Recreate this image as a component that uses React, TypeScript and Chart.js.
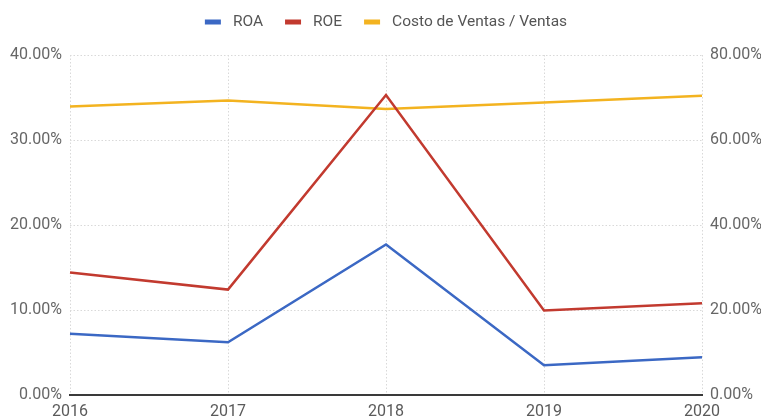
import React, { useEffect, useRef } from "react";
import { Chart, registerables } from "chart.js";

Chart.register(...registerables);

const years = ["2016", "2017", "2018", "2019", "2020"];
const roa = [7.2, 6.2, 17.7, 3.5, 4.45];
const roe = [14.4, 12.4, 35.3, 9.95, 10.8];
const costoVentas = [67.9, 69.3, 67.3, 68.8, 70.4];

const leftTicks = { min: 0, max: 40, step: 10 };
const rightTicks = { min: 0, max: 80, step: 20 };

const FONT = "Roboto";

const customLegend = {
  id: "customLegend",
  afterDraw(chart: any) {
    const ctx = chart.ctx;
    const ds = chart.data.datasets;
    ctx.save();
    ctx.font = `15.5px ${FONT}`;
    ctx.textBaseline = "middle";
    const mW = 16, gapMT = 12, gapItem = 22;
    const widths = ds.map((d: any) => mW + gapMT + ctx.measureText(d.label).width);
    const total = widths.reduce((a: number, b: number) => a + b, 0) + gapItem * (ds.length - 1);
    const ca = chart.chartArea;
    let x = (ca.left + ca.right) / 2 - total / 2;
    const y = 22;
    ds.forEach((d: any, i: number) => {
      ctx.fillStyle = d.borderColor;
      ctx.fillRect(x, y - 2.5, mW, 5);
      ctx.fillStyle = "#555555";
      ctx.textAlign = "left";
      ctx.fillText(d.label, x + mW + gapMT, y + 0.5);
      x += widths[i] + gapItem;
    });
    ctx.restore();
  },
};

export default function App() {
  const ref = useRef<HTMLCanvasElement | null>(null);
  useEffect(() => {
    if (!ref.current) return;
    const chart = new Chart(ref.current, {
      type: "line",
      data: {
        labels: years,
        datasets: [
          { label: "ROA", data: roa, borderColor: "#3b68c4", backgroundColor: "#3b68c4", yAxisID: "y", borderWidth: 2.5, pointRadius: 0, tension: 0 },
          { label: "ROE", data: roe, borderColor: "#c23a2f", backgroundColor: "#c23a2f", yAxisID: "y", borderWidth: 2.5, pointRadius: 0, tension: 0 },
          { label: "Costo de Ventas / Ventas", data: costoVentas, borderColor: "#f3b320", backgroundColor: "#f3b320", yAxisID: "y1", borderWidth: 2.5, pointRadius: 0, tension: 0 },
        ],
      },
      options: {
        responsive: false,
        animation: false,
        layout: { padding: { top: 55, left: 0, right: 0, bottom: 0 } },
        plugins: { legend: { display: false }, tooltip: { enabled: false } },
        scales: {
          x: {
            offset: false,
            grid: { color: "#d9d9d9", lineWidth: 1, drawTicks: false },
            border: { display: true, color: "#3a3a3a", width: 2, dash: [1.5, 2] },
            ticks: { color: "#5a5a5a", font: { family: FONT, size: 16 }, padding: 7, maxRotation: 0, autoSkip: false },
            afterFit: (s: any) => { s.height = 22; },
          },
          y: {
            position: "left",
            min: leftTicks.min,
            max: leftTicks.max,
            ticks: {
              stepSize: leftTicks.step,
              color: "#666666",
              font: { family: FONT, size: 16 },
              padding: 8,
              callback: (v: any) => Number(v).toFixed(2) + "%",
            },
            grid: {
              drawTicks: false,
              color: (c: any) => (c.tick && c.tick.value === 0 ? "rgba(0,0,0,0)" : "#d9d9d9"),
            },
            border: { display: false, dash: [1.5, 2] },
            afterFit: (s: any) => { s.width = 70; },
          },
          y1: {
            position: "right",
            min: rightTicks.min,
            max: rightTicks.max,
            ticks: {
              stepSize: rightTicks.step,
              color: "#666666",
              font: { family: FONT, size: 16 },
              padding: 8,
              callback: (v: any) => Number(v).toFixed(2) + "%",
            },
            grid: { display: false, drawTicks: false },
            border: { display: false },
            afterFit: (s: any) => { s.width = 59; },
          },
        },
      },
      plugins: [customLegend],
    });
    return () => chart.destroy();
  }, []);
  return (
    <canvas
      ref={ref}
      width={761}
      height={417}
      style={{ position: "absolute", left: 0, top: 0, width: 761, height: 417, background: "#ffffff" }}
    />
  );
}
